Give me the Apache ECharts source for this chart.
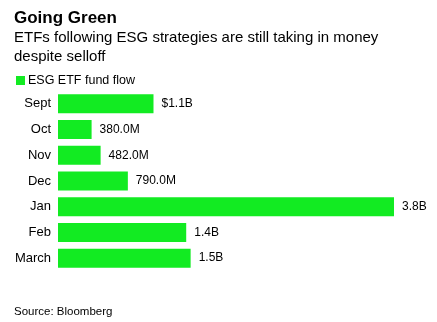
<!DOCTYPE html>
<html><head><meta charset="utf-8">
<script src="https://cdn.jsdelivr.net/npm/echarts@6/dist/echarts.min.js"></script>
<style>html,body{margin:0;padding:0;background:#fff}#c{width:437px;height:322px}</style>
</head><body><div id="c"></div>
<script>
const categories = ['Sept', 'Oct', 'Nov', 'Dec', 'Jan', 'Feb', 'March'];
const flows = [1.08, 0.38, 0.482, 0.79, 3.8, 1.45, 1.5];
const flowLabels = ['$1.1B', '380.0M', '482.0M', '790.0M', '3.8B', '1.4B', '1.5B'];
const FONT = '"Liberation Sans", Arial, Helvetica, sans-serif';
const chart = echarts.init(document.getElementById('c'), null, {renderer: 'canvas'});
chart.setOption({
  animation: false,
  backgroundColor: '#fff',
  textStyle: {fontFamily: FONT},
  title: [
    {text: 'Going Green', left: 14, top: 10, padding: 0, textStyle: {fontFamily: FONT, fontSize: 17, fontWeight: 'bold', color: '#000'}},
    {text: 'ETFs following ESG strategies are still taking in money\ndespite selloff', left: 14, top: 29, padding: 0,
     textStyle: {fontFamily: FONT, fontSize: 15, fontWeight: 'normal', color: '#000', lineHeight: 18.5}},
    {text: 'Source: Bloomberg', left: 14, top: 306, padding: 0, textStyle: {fontFamily: FONT, fontSize: 11.5, fontWeight: 'normal', color: '#000'}}
  ],
  legend: {
    left: 11, top: 69, icon: 'rect', itemWidth: 9, itemHeight: 9, itemGap: 10,
    textStyle: {fontFamily: FONT, fontSize: 12.5, color: '#000', padding: [0, 0, 0, -2]},
    data: ['ESG ETF fund flow']
  },
  grid: {left: 58, right: 43, top: 91, bottom: 51, containLabel: false},
  xAxis: {type: 'value', min: 0, max: 3.8, show: false},
  yAxis: {
    type: 'category', data: categories, inverse: true,
    axisLine: {show: false}, axisTick: {show: false},
    axisLabel: {fontFamily: FONT, fontSize: 13, color: '#000', margin: 7}
  },
  series: [{
    name: 'ESG ETF fund flow', type: 'bar', data: flows, barCategoryGap: '26%',
    itemStyle: {color: '#12EB22'},
    label: {show: true, position: 'right', distance: 8, fontFamily: FONT, fontSize: 12, color: '#000',
      formatter: p => flowLabels[p.dataIndex]}
  }]
});
</script></body></html>
